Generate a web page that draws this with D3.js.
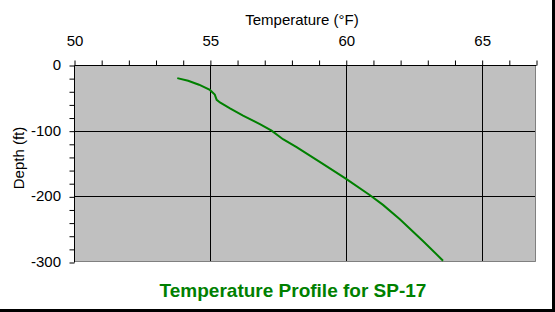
<!DOCTYPE html>
<html>
<head>
<meta charset="utf-8">
<script src="https://cdn.jsdelivr.net/npm/d3@7"></script>
<style>
  body { margin: 0; background: #fff; }
  text { font-family: "Liberation Sans", Arial, sans-serif; }
</style>
</head>
<body>
<div id="chart"></div>
<script>
// temperature (F) vs depth (ft)
const temps = [53.8, 54.2, 54.6, 55.0, 55.18, 55.25, 55.37, 55.74, 56.22, 56.84, 57.27, 57.69, 58.19, 59.1, 60.0, 60.88, 61.37, 61.99, 62.84, 63.58];
const depths = [-20, -24, -30, -38, -45, -53, -57, -66, -77, -90, -100, -113, -125, -149, -173, -198, -213, -235, -268, -298];
const xTicks = [50, 55, 60, 65];
const yTicks = [0, -100, -200, -300];

const width = 555, height = 312;
const margin = {left: 74, right: 19, top: 65, bottom: 50};

const svg = d3.select("#chart").append("svg")
    .attr("width", width)
    .attr("height", height);

svg.append("rect").attr("width", width).attr("height", height).attr("fill", "#000");
svg.append("rect").attr("width", width - 3).attr("height", height - 3).attr("fill", "#fff");

const x = d3.scaleLinear().domain([50, 67]).range([margin.left, 536]);
const y = d3.scaleLinear().domain([0, -300]).range([margin.top, 262]);

// plot background
svg.append("rect")
    .attr("x", x(50)).attr("y", y(0))
    .attr("width", x(67) - x(50)).attr("height", y(-300) - y(0))
    .attr("fill", "#c0c0c0");

// grid lines
svg.append("g").selectAll("line")
    .data(xTicks.filter(d => d > 50))
    .join("line")
    .attr("x1", d => Math.round(x(d)) + 0.5).attr("x2", d => Math.round(x(d)) + 0.5)
    .attr("y1", y(0)).attr("y2", y(-300))
    .attr("stroke", "#000");
svg.append("g").selectAll("line")
    .data(yTicks.filter(d => d < 0 && d > -300))
    .join("line")
    .attr("y1", d => Math.round(y(d)) + 0.5).attr("y2", d => Math.round(y(d)) + 0.5)
    .attr("x1", x(50)).attr("x2", x(67))
    .attr("stroke", "#000");

// gray right & bottom border
svg.append("path")
    .attr("d", `M${x(67) - 0.5},${y(0)}V${y(-300) - 0.5}H${x(50)}`)
    .attr("fill", "none").attr("stroke", "#808080");

// top axis
const xAxis = d3.axisTop(x).tickValues(d3.range(50, 68, 1)).tickSize(5).tickFormat("");
svg.append("g")
    .attr("transform", `translate(0.5,${y(0) + 0.5})`)
    .call(xAxis)
    .call(g => g.select(".domain").attr("d", `M${x(50)},0H${x(67)}`));

svg.append("g").selectAll("text")
    .data(xTicks)
    .join("text")
    .attr("x", d => x(d) + 1).attr("y", 46)
    .attr("text-anchor", "middle")
    .attr("font-size", 15)
    .text(d => d);

// left axis
const yAxis = d3.axisLeft(y).tickValues(d3.range(0, -301, -20)).tickSize(5).tickFormat("");
svg.append("g")
    .attr("transform", `translate(${x(50) + 0.5},0.5)`)
    .call(yAxis)
    .call(g => g.select(".domain").attr("d", `M0,${y(0)}V${y(-300)}`));

svg.append("g").selectAll("text")
    .data(yTicks)
    .join("text")
    .attr("x", 61).attr("y", d => y(d) + 5)
    .attr("text-anchor", "end")
    .attr("font-size", 15)
    .text(d => d);

// axis titles
svg.append("text")
    .attr("x", 302).attr("y", 25)
    .attr("text-anchor", "middle")
    .attr("font-size", 15)
    .text("Temperature (°F)");

svg.append("text")
    .attr("transform", "translate(24,158) rotate(-90)")
    .attr("text-anchor", "middle")
    .attr("font-size", 15)
    .text("Depth (ft)");

// the profile
const line = d3.line()
    .x((d, i) => x(temps[i]))
    .y(d => y(d));

svg.append("path")
    .datum(depths)
    .attr("fill", "none")
    .attr("stroke", "#008000")
    .attr("stroke-width", 2)
    .attr("d", line);

svg.append("text")
    .attr("x", 293).attr("y", 297)
    .attr("text-anchor", "middle")
    .attr("font-size", 19)
    .attr("font-weight", "bold")
    .attr("fill", "#008000")
    .text("Temperature Profile for SP-17");
</script>
</body>
</html>
